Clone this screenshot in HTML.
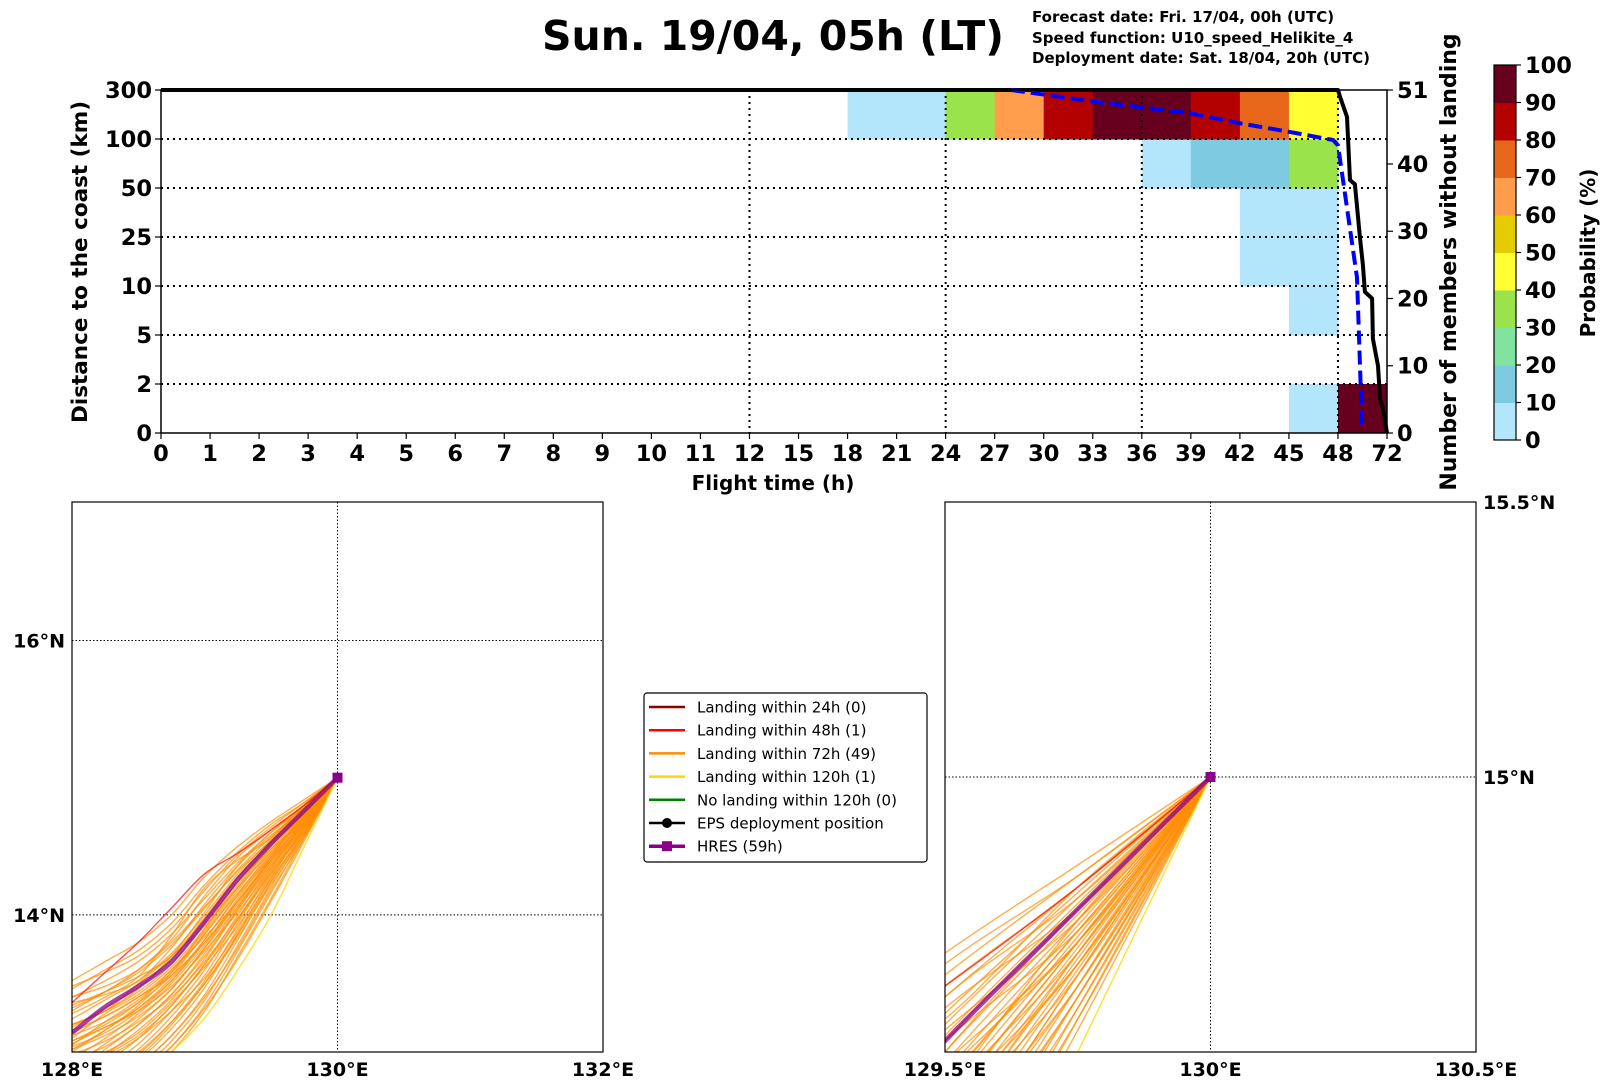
<!DOCTYPE html>
<html><head><meta charset="utf-8">
<style>
html,body{margin:0;padding:0;background:#fff;width:1611px;height:1088px;overflow:hidden;}
svg{display:block;font-family:"DejaVu Sans","Liberation Sans",sans-serif;}
</style></head>
<body>
<svg id="fig" width="1611" height="1088" viewBox="0 0 1611 1088" xmlns="http://www.w3.org/2000/svg">
<defs>
<clipPath id="clipL"><rect x="72" y="502" width="531" height="550"/></clipPath>
<clipPath id="clipR"><rect x="945" y="502" width="531" height="550"/></clipPath>
</defs>
<text x="773" y="50" text-anchor="middle" font-size="41" font-weight="bold">Sun. 19/04, 05h (LT)</text>
<text x="1032" y="22" font-size="15" font-weight="bold">Forecast date: Fri. 17/04, 00h (UTC)</text>
<text x="1032" y="43" font-size="15" font-weight="bold">Speed function: U10_speed_Helikite_4</text>
<text x="1032" y="63" font-size="15" font-weight="bold">Deployment date: Sat. 18/04, 20h (UTC)</text>
<g id="topchart"></g>
<g id="cbar"></g>
<g id="mapL"></g>
<g id="mapR"></g>
<g id="legend"></g>
</svg>
<script>
// ---------- data ----------
const xTickLabels = ["0","1","2","3","4","5","6","7","8","9","10","11","12","15","18","21","24","27","30","33","36","39","42","45","48","72"];
const yTickLabels = ["0","2","5","10","25","50","100","300"];
const distLevels = [0,2,5,10,25,50,100,300];
const rightTicks = [0,10,20,30,40,51];
const heatCol = [23,24,23,22,23,22,23,20,21,22,23,14,15,16,17,18,19,20,21,22,23];
const heatRow = [0,0,2,3,3,4,4,5,5,5,5,6,6,6,6,6,6,6,6,6,6];
const heatVal = [4,96,4,4,4,4,4,6,14,14,35,4,4,35,65,85,96,96,85,75,45];
const memberTime = [0,48,49,52.4,53.9,56.3,58.8,60.2,61.2,64.7,65.1,67.6,68.6,70,72];
const memberCount = [51,51,50,47,37.6,37,29,25,21,20,14,10,5,3.7,0];
const distTime = [28,33.4,38.9,42,45.1,47.7,48,57.3,59.8];
const distMean = [300,250,206,164,128,99,93.5,12.6,0.2];
const cbarTicks = [0,10,20,30,40,50,60,70,80,90,100];
const cbarColors = ["#b3e5fb","#7ecae1","#80e4a0","#9be34b","#ffff33","#e5cc00","#ff9d4d","#e6661a","#b30000","#67001f"];
const trackLons = [130,129.75,129.5,129.25,129.0,128.75,128.5,128.25,128.0];
const hresLats = [15,14.76,14.52,14.26,13.95,13.66,13.48,13.33,13.14];
const redLats = [15,14.8,14.62,14.45,14.3,14.05,13.8,13.58,13.36];
const yellowLats = [15,14.5,14.0,13.6,13.25,13.0,12.8,12.6,12.4];
const orangeLats = [
[15,14.84,14.68,14.50,14.28,14.00,13.80,13.66,13.52],
[15,14.82,14.66,14.46,14.22,13.94,13.74,13.60,13.46],
[15,14.80,14.60,14.38,14.12,13.86,13.66,13.52,13.40],
[15,14.79,14.57,14.33,14.05,13.78,13.58,13.44,13.30],
[15,14.78,14.55,14.30,14.00,13.72,13.52,13.38,13.24],
[15,14.77,14.53,14.27,13.96,13.68,13.47,13.32,13.18],
[15,14.75,14.50,14.22,13.90,13.62,13.42,13.28,13.10],
[15,14.74,14.48,14.18,13.86,13.58,13.38,13.22,13.05],
[15,14.73,14.46,14.15,13.82,13.54,13.32,13.16,13.00],
[15,14.72,14.44,14.12,13.78,13.50,13.28,13.10,12.95],
[15,14.71,14.42,14.10,13.76,13.46,13.24,13.06,12.90],
[15,14.70,14.40,14.06,13.72,13.42,13.20,13.02,12.85],
[15,14.69,14.38,14.04,13.68,13.38,13.16,12.98,12.80],
[15,14.68,14.36,14.00,13.64,13.34,13.10,12.92,12.75],
[15,14.67,14.34,13.97,13.60,13.30,13.06,12.88,12.70],
[15,14.66,14.32,13.94,13.56,13.26,13.02,12.84,12.66],
[15,14.65,14.30,13.90,13.52,13.22,12.98,12.80,12.62],
[15,14.64,14.27,13.86,13.47,13.17,12.94,12.76,12.58],
[15,14.62,14.24,13.82,13.42,13.12,12.90,12.72,12.55],
[15,14.60,14.20,13.78,13.38,13.08,12.86,12.68,12.50],
[15,14.58,14.16,13.74,13.34,13.04,12.82,12.64,12.46],
[15,14.56,14.12,13.70,13.30,13.00,12.78,12.60,12.42],
[15,14.80,14.56,14.40,14.20,13.85,13.55,13.40,13.28],
[15,14.76,14.58,14.36,14.08,13.76,13.52,13.42,13.36],
[15,14.72,14.52,14.28,13.98,13.70,13.55,13.44,13.34],
[15,14.70,14.46,14.20,13.92,13.70,13.50,13.30,13.20],
[15,14.74,14.42,14.08,13.80,13.56,13.40,13.26,13.14],
[15,14.66,14.40,14.10,13.84,13.60,13.36,13.20,13.08],
[15,14.68,14.34,14.02,13.74,13.48,13.30,13.18,13.06],
[15,14.62,14.30,13.98,13.66,13.40,13.22,13.08,12.98],
[15,14.64,14.28,13.92,13.62,13.36,13.14,13.00,12.92],
[15,14.60,14.26,13.88,13.54,13.30,13.10,12.96,12.86],
[15,14.70,14.48,14.24,13.90,13.58,13.34,13.16,13.02],
[15,14.78,14.60,14.36,14.02,13.70,13.46,13.30,13.20],
[15,14.82,14.64,14.44,14.18,13.90,13.70,13.58,13.48],
[15,14.76,14.52,14.24,13.94,13.64,13.44,13.30,13.20],
[15,14.72,14.44,14.16,13.86,13.56,13.36,13.22,13.12],
[15,14.66,14.38,14.06,13.76,13.46,13.26,13.12,13.02],
[15,14.62,14.32,13.96,13.64,13.34,13.12,12.98,12.88],
[15,14.58,14.22,13.84,13.50,13.22,13.00,12.86,12.76],
[15,14.74,14.54,14.32,14.06,13.80,13.60,13.48,13.40],
[15,14.80,14.62,14.42,14.14,13.82,13.60,13.44,13.32],
[15,14.68,14.42,14.14,13.82,13.52,13.30,13.14,13.04],
[15,14.64,14.36,14.04,13.70,13.42,13.20,13.04,12.94],
[15,14.60,14.24,13.86,13.50,13.20,12.96,12.80,12.68],
[15,14.56,14.18,13.76,13.40,13.12,12.90,12.74,12.60],
[15,14.54,14.10,13.68,13.32,13.04,12.84,12.68,12.54],
[15,14.76,14.50,14.20,13.88,13.60,13.40,13.26,13.16],
[15,14.70,14.40,14.10,13.80,13.52,13.32,13.18,13.08]
];
const deployLon = 130, deployLat = 15;
const legendLabels = ["Landing within 24h (0)","Landing within 48h (1)","Landing within 72h (49)","Landing within 120h (1)","No landing within 120h (0)","EPS deployment position","HRES (59h)"];

// ---------- helpers ----------
const NS="http://www.w3.org/2000/svg";
function mk(tag,attrs,parent){const e=document.createElementNS(NS,tag);for(const k in attrs)e.setAttribute(k,attrs[k]);parent.appendChild(e);return e;}
const L=161,R=1387,T=90,B=433;
const cw=(R-L)/25, rh=(B-T)/7;
function colIdx(t){if(t<=12)return t;if(t<=48)return 12+(t-12)/3;return 24+(t-48)/24;}
function xT(t){return L+colIdx(t)*cw;}
function yDist(d){for(let i=0;i<distLevels.length-1;i++){if(d<=distLevels[i+1])return B-(i+(d-distLevels[i])/(distLevels[i+1]-distLevels[i]))*rh;}return T;}
function yMem(m){return B-m/51*(B-T);}
function colorFor(v){return cbarColors[Math.min(9,Math.floor(v/10))];}

// ---------- top chart ----------
const topG=document.getElementById('topchart');
for(let i=0;i<heatVal.length;i++){
  const r=mk('rect',{x:L+heatCol[i]*cw,y:B-(heatRow[i]+1)*rh,width:cw+0.5,height:rh+0.5,fill:colorFor(heatVal[i])},topG);
  
  
}
for(let i=1;i<7;i++){
  const g=mk('line',{x1:L,x2:R,y1:B-i*rh,y2:B-i*rh,stroke:'#000','stroke-width':2,'stroke-dasharray':'2,4'},topG);
  
  
}
[12,24,36,48].forEach(tt=>{
  const g=mk('line',{x1:xT(tt),x2:xT(tt),y1:T,y2:B,stroke:'#000','stroke-width':2,'stroke-dasharray':'2,4'},topG);
  
  
});
let p='';
memberTime.forEach((tt,i)=>{p+=(i?'L':'M')+xT(tt).toFixed(1)+','+yMem(memberCount[i]).toFixed(1);});
const ml=mk('path',{d:p,fill:'none',stroke:'#000','stroke-width':4,'stroke-linejoin':'round'},topG);


p='';
distTime.forEach((tt,i)=>{p+=(i?'L':'M')+xT(tt).toFixed(1)+','+yDist(distMean[i]).toFixed(1);});
const bl=mk('path',{d:p,fill:'none',stroke:'#0000ff','stroke-width':4,'stroke-dasharray':'14,6','stroke-linejoin':'round'},topG);


const fr=mk('rect',{x:L,y:T,width:R-L,height:B-T,fill:'none',stroke:'#000','stroke-width':1.5},topG);


xTickLabels.forEach((lab,i)=>{
  const x=L+i*cw;
  mk('line',{x1:x,x2:x,y1:B,y2:B+6,stroke:'#000','stroke-width':1.2},topG);
  const tx=mk('text',{x:x,y:B+28,'text-anchor':'middle','font-size':22.5,'font-weight':'bold'},topG);
  tx.textContent=lab;
  
  
});
yTickLabels.forEach((lab,i)=>{
  const y=B-i*rh;
  mk('line',{x1:L-6,x2:L,y1:y,y2:y,stroke:'#000','stroke-width':1.2},topG);
  const tx=mk('text',{x:L-9,y:y+8,'text-anchor':'end','font-size':22.5,'font-weight':'bold'},topG);
  tx.textContent=lab;
  
  
});
rightTicks.forEach(m=>{
  const y=yMem(m);
  mk('line',{x1:R,x2:R+6,y1:y,y2:y,stroke:'#000','stroke-width':1.2},topG);
  const tx=mk('text',{x:R+10,y:y+8,'font-size':22.5,'font-weight':'bold'},topG);
  tx.textContent=String(m);
  
  
});
let lbl=mk('text',{x:773,y:490,'text-anchor':'middle','font-size':20,'font-weight':'bold'},topG);
lbl.textContent='Flight time (h)';


lbl=mk('text',{x:0,y:0,'text-anchor':'middle','font-size':21.5,'font-weight':'bold',transform:'translate(87,262) rotate(-90)'},topG);
lbl.textContent='Distance to the coast (km)';


lbl=mk('text',{x:0,y:0,'text-anchor':'middle','font-size':22,'font-weight':'bold',transform:'translate(1456,262) rotate(-90)'},topG);
lbl.textContent='Number of members without landing';



// ---------- colorbar ----------
const cb=document.getElementById('cbar');
const cx=1494,cwid=22,cyT=65,cyB=440,ch=(cyB-cyT)/10;
cbarColors.forEach((c,i)=>{
  const r=mk('rect',{x:cx,y:cyB-(i+1)*ch,width:cwid,height:ch+0.5,fill:c},cb);
  
  
});
mk('rect',{x:cx,y:cyT,width:cwid,height:cyB-cyT,fill:'none',stroke:'#000','stroke-width':1.2},cb);
cbarTicks.forEach(v=>{
  const y=cyB-v/100*(cyB-cyT);
  mk('line',{x1:cx+cwid,x2:cx+cwid+5,y1:y,y2:y,stroke:'#000','stroke-width':1.2},cb);
  const tx=mk('text',{x:cx+cwid+9,y:y+8,'font-size':22.5,'font-weight':'bold'},cb);
  tx.textContent=String(v);
  
  
});
lbl=mk('text',{x:0,y:0,'text-anchor':'middle','font-size':20,'font-weight':'bold',transform:'translate(1595,253) rotate(-90)'},cb);
lbl.textContent='Probability (%)';



// ---------- maps ----------
function smoothPath(pts){
  let d='M'+pts[0][0].toFixed(1)+','+pts[0][1].toFixed(1);
  for(let i=0;i<pts.length-1;i++){
    const p0=pts[Math.max(0,i-1)],p1=pts[i],p2=pts[i+1],p3=pts[Math.min(pts.length-1,i+2)];
    const c1=[p1[0]+(p2[0]-p0[0])/6,p1[1]+(p2[1]-p0[1])/6];
    const c2=[p2[0]-(p3[0]-p1[0])/6,p2[1]-(p3[1]-p1[1])/6];
    d+='C'+c1[0].toFixed(1)+','+c1[1].toFixed(1)+' '+c2[0].toFixed(1)+','+c2[1].toFixed(1)+' '+p2[0].toFixed(1)+','+p2[1].toFixed(1);
  }
  return d;
}
function drawMap(gid,clip,box,lon0,lon1,lat0,lat1,gridLons,gridLats,lonLabels,latLabels,latSide){
  const g=document.getElementById(gid);
  const X=lon=>box.x+(lon-lon0)/(lon1-lon0)*box.w;
  const Y=lat=>box.y+box.h-(lat-lat0)/(lat1-lat0)*box.h;
  const inner=mk('g',{'clip-path':'url(#'+clip+')'},g);
  gridLons.forEach(lo=>{
    const l=mk('line',{x1:X(lo),x2:X(lo),y1:box.y,y2:box.y+box.h,stroke:'#000','stroke-width':1,'stroke-dasharray':'1.5,2'},inner);
    
    
  });
  gridLats.forEach(la=>{
    const l=mk('line',{x1:box.x,x2:box.x+box.w,y1:Y(la),y2:Y(la),stroke:'#000','stroke-width':1,'stroke-dasharray':'1.5,2'},inner);
    
    
  });
  const pts=lats=>lats.map((la,i)=>[X(trackLons[i]),Y(la)]);
  orangeLats.forEach(lats=>{
    const pth=mk('path',{d:smoothPath(pts(lats)),fill:'none',stroke:'#ff8c00','stroke-opacity':0.7,'stroke-width':1.4},inner);
    
    
  });
  let pth=mk('path',{d:smoothPath(pts(yellowLats)),fill:'none',stroke:'#ffd700','stroke-opacity':0.8,'stroke-width':1.4},inner);
  
  
  pth=mk('path',{d:smoothPath(pts(redLats)),fill:'none',stroke:'#ff0000','stroke-opacity':0.7,'stroke-width':1.4},inner);
  
  
  pth=mk('path',{d:smoothPath(pts(hresLats)),fill:'none',stroke:'#8b008b','stroke-opacity':0.75,'stroke-width':4.5},inner);
  
  
  const mkr=mk('rect',{x:X(deployLon)-5,y:Y(deployLat)-5,width:10,height:10,fill:'#8b008b'},inner);
  
  
  const f=mk('rect',{x:box.x,y:box.y,width:box.w,height:box.h,fill:'none',stroke:'#000','stroke-width':1.2},g);
  
  
  lonLabels.forEach(([lo,txt])=>{
    const tx=mk('text',{x:X(lo),y:box.y+box.h+24,'text-anchor':'middle','font-size':19,'font-weight':'bold'},g);
    tx.textContent=txt;
    
    
  });
  latLabels.forEach(([la,txt])=>{
    const tx=mk('text',{x:latSide==='left'?box.x-7:box.x+box.w+7,y:Y(la)+7,'text-anchor':latSide==='left'?'end':'start','font-size':19,'font-weight':'bold'},g);
    tx.textContent=txt;
    
    
  });
}
drawMap('mapL','clipL',{x:72,y:502,w:531,h:550},128,132,13,17.01,[130],[14,16],[[128,'128°E'],[130,'130°E'],[132,'132°E']],[[14,'14°N'],[16,'16°N']],'left');
drawMap('mapR','clipR',{x:945,y:502,w:531,h:550},129.5,130.5,14.5,15.5,[130],[15],[[129.5,'129.5°E'],[130,'130°E'],[130.5,'130.5°E']],[[15,'15°N'],[15.5,'15.5°N']],'right');

// ---------- legend ----------
const lg=document.getElementById('legend');
const lb=mk('rect',{x:644,y:693,width:283,height:169,rx:3,fill:'#fff',stroke:'#000','stroke-width':1.2},lg);


const legColors=['#8b0000','#ff0000','#ff8c00','#ffd700','#008000','#000000','#8b008b'];
legendLabels.forEach((lab,i)=>{
  const y=707+i*23.2;
  mk('line',{x1:649,x2:685,y1:y,y2:y,stroke:legColors[i],'stroke-width':i===6?3.5:2.5},lg);
  if(i===5) mk('circle',{cx:667,cy:y,r:5,fill:'#000'},lg);
  if(i===6) mk('rect',{x:662,y:y-5,width:10,height:10,fill:'#8b008b'},lg);
  const tx=mk('text',{x:697,y:y+5.5,'font-size':15},lg);
  tx.textContent=lab;
  
  
});
</script>
</body></html>
